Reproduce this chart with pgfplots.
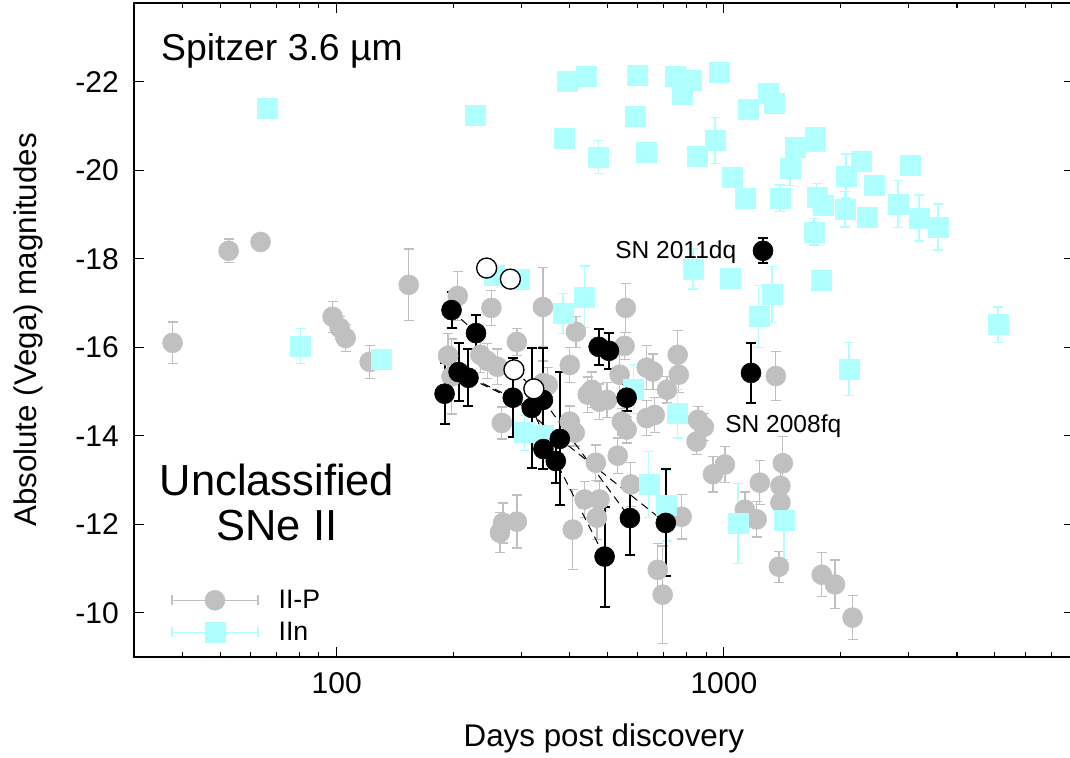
\documentclass[border=0pt]{standalone}
\usepackage{pgfplots}
\pgfplotsset{compat=1.18}
\usepackage{fontspec}
\setmainfont{Liberation Sans}
\definecolor{iip}{RGB}{192,192,192}
\definecolor{iin}{RGB}{175,255,255}

\begin{document}
\begin{tikzpicture}
\begin{axis}[
  at={(0,0)}, anchor=south west,
  scale only axis, width=704.5pt, height=490.5pt,
  xmode=log, xmin=30, xmax=8000,
  ymin=-23.78, ymax=-9, y dir=reverse,
  xtick={100,1000}, xticklabels={100,1000},
  minor xtick={40,50,60,70,80,90,200,300,400,500,600,700,800,900,2000,3000,4000,5000,6000,7000},
  ytick={-22,-20,-18,-16,-14,-12,-10},
  yticklabels={-22,-20,-18,-16,-14,-12,-10},
  tick align=inside,
  major tick length=7.5pt, minor tick length=3.75pt,
  tick style={black, line width=0.8pt},
  axis line style={line width=1.5pt},
  ticklabel style={font=\fontsize{22.5}{24}\selectfont},
  xticklabel style={yshift=-8pt},
  yticklabel style={xshift=-8pt},
  xlabel={Days post discovery},
  ylabel={Absolute (Vega) magnitudes},
  label style={font=\fontsize{23.5}{26}\selectfont},
  xlabel style={at={(rel axis cs:0.5,-0.124)}, anchor=center},
  ylabel style={at={(rel axis cs:-0.113,0.5)}, anchor=center},
  legend style={draw=none, fill=none, inner xsep=0pt, inner ysep=0pt,
    at={(rel axis cs:0.0392,0.1116)}, anchor=north west,
    column sep=13pt, row sep=0pt,
    font=\fontsize{20}{22}\selectfont},
  legend cell align=left,
  clip=false,
]

% ---- II-P (grey) ----
\addplot[only marks, mark=*, mark size=7.5pt, color=iip, mark options={fill=iip, draw=iip},
  legend image code/.code={
    \path[draw=none, fill=none] (0pt,-12pt) rectangle (64.5pt,12pt);
    \draw[iip, line width=1pt] (0pt,0pt) -- (64.5pt,0pt);
    \draw[iip, line width=1pt] (0pt,-3.75pt) -- (0pt,3.75pt);
    \draw[iip, line width=1pt] (64.5pt,-3.75pt) -- (64.5pt,3.75pt);
    \fill[iip] (32.25pt,0pt) circle (7.5pt);
  },
  error bars/.cd, y dir=both, y explicit,
  error bar style={line width=1pt, iip},
  error mark options={rotate=90, mark size=3.75pt, line width=1pt, iip},
]
  table[x=x, y=y, y error=e] {
x y e
37.7 -16.10 0.47
52.6 -18.18 0.27
63.6 -18.38 0.10
97.6 -16.69 0.35
101.8 -16.44 0.25
105.5 -16.21 0.30
121.7 -15.67 0.37
153.5 -17.41 0.81
194 -15.81 0.50
198 -15.34 0.85
205.5 -17.16 0.55
235 -15.83 0.40
245 -15.69 0.40
251 -16.89 0.40
260 -15.56 0.40
264 -11.81 0.45
267 -14.29 0.36
269 -12.03 0.45
292 -16.12 0.30
292 -12.06 0.60
341 -16.91 0.90
341 -15.19 0.50
351 -15.15 0.40
400 -15.60 0.40
400 -14.32 0.35
407 -11.88 0.90
412 -14.07 0.30
415 -16.35 0.35
437 -12.56 0.40
445 -14.93 0.40
456 -15.04 0.40
467 -13.39 0.40
470 -12.15 0.50
477 -14.77 0.40
477 -12.56 0.40
499 -14.81 0.40
532 -13.55 0.40
538 -15.38 0.60
545 -14.32 0.30
554 -16.03 0.30
558 -16.89 0.55
561 -14.14 0.30
575 -12.90 0.50
632 -15.54 0.50
632 -14.40 0.40
656 -15.45 0.40
663 -14.47 0.40
675 -10.97 0.60
695 -10.41 1.10
713 -15.04 0.30
760 -15.83 0.55
765 -15.38 0.40
778 -12.17 0.50
850 -13.87 0.30
857 -14.36 0.30
888 -14.20 0.30
937 -13.13 0.40
1006 -13.35 0.40
1133 -12.33 0.40
1216 -12.11 0.40
1238 -12.94 0.50
1362 -15.35 0.55
1387 -11.04 0.35
1400 -12.87 0.50
1400 -12.49 0.50
1420 -13.38 0.60
1790 -10.86 0.50
1936 -10.64 0.55
2150 -9.89 0.50
};
\addlegendentry{II-P}

% ---- IIn (cyan) ----
\addplot[only marks, mark=square*, mark size=7.5pt, color=iin, mark options={fill=iin, draw=iin},
  legend image code/.code={
    \path[draw=none, fill=none] (0pt,-12pt) rectangle (64.5pt,12pt);
    \draw[iin, line width=1pt] (0pt,0pt) -- (64.5pt,0pt);
    \draw[iin, line width=1pt] (0pt,-3.75pt) -- (0pt,3.75pt);
    \draw[iin, line width=1pt] (64.5pt,-3.75pt) -- (64.5pt,3.75pt);
    \fill[iin] (24.75pt,-7.5pt) rectangle (39.75pt,7.5pt);
  },
  error bars/.cd, y dir=both, y explicit,
  error bar style={line width=1pt, iin},
  error mark options={rotate=90, mark size=3.75pt, line width=1pt, iin},
]
  table[x=x, y=y, y error=e] {
x y e
66.3 -21.41 0
228.6 -21.25 0
393 -22.02 0
440 -22.13 0
596 -22.15 0
747 -22.13 0
822 -22.04 0
783 -21.72 0
971 -22.22 0
1306 -21.74 0
1346 -21.52 0
1153 -21.38 0
592 -21.22 0
386 -20.73 0
475 -20.30 0.37
632 -20.41 0
852 -20.32 0
948 -20.68 0.52
1050 -19.85 0
1133 -19.37 0.10
1396 -19.37 0.30
1481 -20.05 0.40
1525 -20.53 0
1718 -20.66 0
1727 -20.75 0
1738 -19.40 0.30
1803 -19.22 0
2066 -19.87 0.50
2260 -20.21 0
2443 -19.67 0
2816 -19.24 0.53
3026 -20.12 0
2054 -19.12 0.40
2342 -18.94 0
3190 -18.92 0.52
3573 -18.72 0.52
1709 -18.61 0.30
1782 -17.52 0
2105 -15.51 0.60
5105 -16.51 0.40
832 -17.77 0.45
1037 -17.57 0
1331 -17.19 0.63
1231 -16.69 0.70
80.7 -16.03 0.40
130 -15.72 0.15
256 -17.63 0.20
297 -17.54 0
384 -16.76 0.45
437 -17.14 0.70
306 -14.07 0.40
341 -14.00 0
585 -15.06 0.55
760 -14.50 0.55
640 -12.90 0.75
712 -12.42 0.80
1087 -12.02 0.90
1429 -12.08 0.88
};
\addlegendentry{IIn}

% ---- dashed connections (same SN, several epochs) ----
\addplot[forget plot, black, line width=0.75pt, dash pattern=on 6pt off 4pt] coordinates {(198,-16.84) (229,-16.32)};
\addplot[forget plot, black, line width=0.75pt, dash pattern=on 6pt off 4pt] coordinates {(206.5,-15.44) (285,-14.86) (377,-13.93) (708,-12.03)};
\addplot[forget plot, black, line width=0.75pt, dash pattern=on 6pt off 4pt] coordinates {(219,-15.31) (319,-14.63) (368,-13.43) (492,-11.27)};
\addplot[forget plot, black, line width=0.75pt, dash pattern=on 6pt off 4pt] coordinates {(341,-14.81) (572,-12.14)};
\addplot[forget plot, black, line width=0.75pt, dash pattern=on 6pt off 4pt] coordinates {(287,-15.49) (323,-15.06)};
\addplot[forget plot, black, line width=0.75pt, dash pattern=on 6pt off 4pt] coordinates {(244,-17.79) (281,-17.54)};

% ---- unclassified (black) ----
\addplot[forget plot, only marks, mark=*, mark size=7.5pt, color=black,
  error bars/.cd, y dir=both, y explicit,
  error bar style={line width=1.5pt, black},
  error mark options={rotate=90, mark size=3.75pt, line width=1.5pt, black},
]
  table[x=x, y=y, y error=e] {
x y e
198 -16.84 0.40
229 -16.32 0.40
190 -14.95 0.69
206.5 -15.44 0.65
219 -15.31 0.64
285 -14.86 0.89
319 -14.63 1.35
341 -14.81 1.17
342 -13.70 0.45
377 -13.93 1.50
368 -13.43 0.50
475 -16.01 0.40
505 -15.92 0.40
561 -14.86 0.30
572 -12.14 0.84
492 -11.27 1.13
708 -12.03 1.21
1262 -18.18 0.28
1175 -15.42 0.68
};
\addplot[forget plot, only marks, mark=*, mark size=7.5pt, mark options={fill=white, draw=black, line width=1pt},
  error bars/.cd, y dir=both, y explicit,
  error bar style={line width=1pt, black},
  error mark options={rotate=90, mark size=3.75pt, line width=1pt, black},
]
  table[x=x, y=y, y error=e] {
x y e
244 -17.79 0.10
281 -17.54 0.10
};
\addplot[forget plot, only marks, mark=*, mark size=7.5pt, mark options={fill=white, draw=black, line width=1pt}]
  table[x=x, y=y] {
x y
287 -15.49
323 -15.06
};

% ---- annotations ----
\node[anchor=base west, inner sep=0pt, font=\fontsize{28}{30}\selectfont] at (rel axis cs:0.0285,0.9128) {Spitzer 3.6 µm};
\node[anchor=base, font=\fontsize{32.6}{34}\selectfont] at (rel axis cs:0.152,0.2477) {Unclassified};
\node[anchor=base, font=\fontsize{32.6}{34}\selectfont] at (rel axis cs:0.152,0.1789) {SNe II};
\node[anchor=base west, inner sep=0pt, font=\fontsize{18.4}{20}\selectfont] at (rel axis cs:0.5119,0.6086) {SN 2011dq};
\node[anchor=base west, inner sep=0pt, font=\fontsize{18.4}{20}\selectfont] at (rel axis cs:0.6290,0.3440) {SN 2008fq};
\end{axis}
\pgfresetboundingbox
\useasboundingbox (-100.65pt,-75pt) rectangle (701.85pt,492.75pt);
\end{tikzpicture}
\end{document}
